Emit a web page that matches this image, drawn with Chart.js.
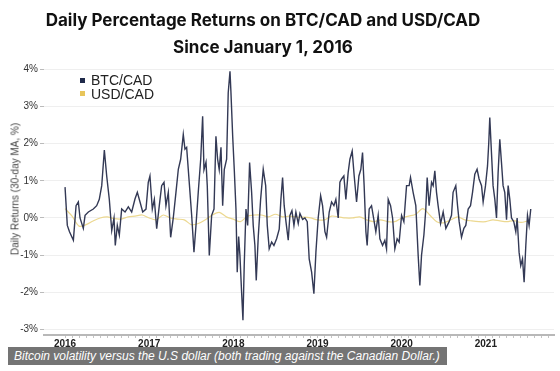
<!DOCTYPE html>
<html>
<head>
<meta charset="utf-8">
<script src="https://cdn.jsdelivr.net/npm/chart.js@4.4.1/dist/chart.umd.min.js"></script>
<style>
  html, body { margin: 0; padding: 0; background: #fff; }
  #wrap { position: relative; width: 560px; height: 371px; overflow: hidden; font-family: 'Liberation Sans', Arial, sans-serif; }
  #chart { position: absolute; left: 0; top: 0; }
  #title { position: absolute; left: 0; top: 7px; width: 526px; text-align: center; font-family: Inter, Roboto, sans-serif; font-weight: 700; font-size: 17px; line-height: 27px; color: #111; }
  #ytitle { position: absolute; left: 15px; top: 189px; transform: translate(-50%, -50%) rotate(-90deg); white-space: nowrap; font-size: 10px; color: #444; }
  #legend { position: absolute; left: 80px; top: 74px; font-size: 14px; line-height: 13.5px; color: #222; }
  #legend .box { display: inline-block; width: 5px; height: 5px; margin-right: 6px; vertical-align: middle; position: relative; top: -1px; }
  #caption { position: absolute; left: 8px; top: 347px; width: 439px; height: 18px; box-sizing: border-box; padding-left: 6px; background: #747474; color: #fff; font-style: italic; font-size: 12px; line-height: 18px; white-space: nowrap; }
</style>
</head>
<body>
<div id="wrap">
  <canvas id="chart" width="560" height="371"></canvas>
  <div id="title">Daily Percentage Returns on BTC/CAD and USD/CAD<br>Since January 1, 2016</div>
  <div id="ytitle">Daily Returns (30-day MA, %)</div>
  <div id="legend"></div>
  <div id="caption">Bitcoin volatility versus the U.S dollar (both trading against the Canadian Dollar.)</div>
</div>
<script>
// BTC/CAD, 30-day MA of daily returns (%), dates as decimal years
const btcYears = [
  2016.000, 2016.027, 2016.053, 2016.099, 2016.131, 2016.158, 2016.178, 2016.217, 2016.238, 2016.277,
  2016.336, 2016.376, 2016.407, 2016.436, 2016.467, 2016.495, 2016.526, 2016.555, 2016.582, 2016.597,
  2016.621, 2016.645, 2016.673, 2016.713, 2016.752, 2016.792, 2016.831, 2016.859, 2016.891, 2016.923,
  2016.962, 2016.989, 2017.009, 2017.037, 2017.061, 2017.089, 2017.120, 2017.148, 2017.176, 2017.199,
  2017.227, 2017.255, 2017.286, 2017.318, 2017.346, 2017.374, 2017.405, 2017.425, 2017.445, 2017.476,
  2017.505, 2017.532, 2017.556, 2017.583, 2017.612, 2017.635, 2017.651, 2017.675, 2017.690, 2017.714,
  2017.742, 2017.770, 2017.793, 2017.813, 2017.832, 2017.853, 2017.873, 2017.892, 2017.920, 2017.939,
  2017.960, 2017.971, 2017.992, 2018.011, 2018.031, 2018.046, 2018.063, 2018.078, 2018.098, 2018.114,
  2018.129, 2018.150, 2018.170, 2018.193, 2018.217, 2018.236, 2018.256, 2018.272, 2018.296, 2018.324,
  2018.355, 2018.384, 2018.403, 2018.426, 2018.455, 2018.482, 2018.514, 2018.545, 2018.565, 2018.585,
  2018.604, 2018.625, 2018.652, 2018.672, 2018.696, 2018.720, 2018.743, 2018.771, 2018.791, 2018.823,
  2018.850, 2018.878, 2018.901, 2018.930, 2018.957, 2018.981, 2019.008, 2019.037, 2019.060, 2019.088,
  2019.108, 2019.139, 2019.167, 2019.195, 2019.218, 2019.246, 2019.266, 2019.286, 2019.313, 2019.337,
  2019.364, 2019.385, 2019.412, 2019.436, 2019.464, 2019.492, 2019.515, 2019.535, 2019.554, 2019.575,
  2019.590, 2019.614, 2019.642, 2019.661, 2019.693, 2019.721, 2019.741, 2019.773, 2019.800, 2019.820,
  2019.840, 2019.868, 2019.892, 2019.919, 2019.946, 2019.970, 2019.999, 2020.026, 2020.058, 2020.089,
  2020.105, 2020.136, 2020.168, 2020.196, 2020.216, 2020.236, 2020.264, 2020.287, 2020.303, 2020.326,
  2020.355, 2020.374, 2020.394, 2020.414, 2020.433, 2020.462, 2020.493, 2020.525, 2020.564, 2020.592,
  2020.611, 2020.643, 2020.664, 2020.683, 2020.711, 2020.739, 2020.762, 2020.790, 2020.818, 2020.842,
  2020.869, 2020.896, 2020.920, 2020.949, 2020.968, 2020.996, 2021.020, 2021.035, 2021.047, 2021.063,
  2021.086, 2021.107, 2021.127, 2021.146, 2021.166, 2021.186, 2021.205, 2021.225, 2021.246, 2021.265,
  2021.285, 2021.305, 2021.332, 2021.356, 2021.372, 2021.395, 2021.415, 2021.436, 2021.455, 2021.475,
  2021.495, 2021.514, 2021.534
];
const btcReturns = [
  0.83, -0.20, -0.37, -0.60, 0.33, 0.43, 0.00, -0.28, 0.07, 0.16,
  0.24, 0.33, 0.50, 0.87, 1.83, 1.13, 0.50, -0.34, 0.00, -0.74,
  -0.20, -0.46, 0.24, 0.16, 0.30, 0.16, 0.51, 0.69, 0.43, 0.16,
  0.24, 0.96, 1.13, 0.24, 0.50, -0.29, 0.33, 0.87, 0.96, 0.33,
  0.69, -0.52, 0.00, 0.69, 1.31, 1.58, 2.25, 1.85, 1.90, 0.95,
  0.06, -0.92, -0.20, 0.69, 1.58, 2.74, 1.30, 1.50, 0.87, -1.01,
  0.07, 0.24, 2.20, 1.58, 1.30, 1.90, 0.33, 1.30, 1.58, 3.37,
  3.95, 3.40, 2.20, 1.30, 0.24, -1.46, -0.50, -1.00, -2.00, -2.75,
  -1.28, 0.24, -0.20, 1.49, 0.69, -0.20, -0.74, -1.68, -0.50, 0.50,
  1.31, 0.87, -0.20, -0.83, -0.65, -0.74, -0.56, -0.30, 0.50, 1.09,
  0.33, -0.10, -0.60, 0.07, 0.20, -0.20, 0.16, -0.15, 0.12, -0.04,
  0.00, -0.10, -1.10, -1.46, -2.04, -0.92, 0.00, 0.60, 0.33, -0.37,
  -0.52, 0.16, 0.43, 0.33, 0.50, 0.00, 0.96, 1.05, 1.13, 0.50,
  1.22, 1.58, 1.80, 1.13, 0.43, 1.13, 1.31, 1.76, 0.87, -0.37,
  -0.74, 0.24, 0.33, 0.07, -0.37, 0.07, -0.56, -0.74, -0.60, -0.83,
  0.50, 0.33, 0.00, -0.83, -0.56, -0.65, 0.07, -0.10, 0.87, 0.87,
  1.09, 0.69, 0.33, -1.01, -1.82, -1.00, -0.46, 0.24, 1.09, 0.33,
  0.96, 0.87, 1.27, 0.69, 0.33, -0.15, 0.16, -0.28, -0.10, 0.07,
  0.69, 0.87, 0.33, -0.10, -0.52, -0.28, -0.20, 0.24, 0.33, 0.69,
  1.18, 1.31, 1.05, 0.87, 0.43, 0.87, 1.40, 2.03, 2.70, 1.94,
  0.87, 0.50, 0.00, 1.22, 2.12, 1.49, 0.87, 0.69, -0.05, 0.87,
  0.50, 0.00, -0.10, -0.37, 0.00, -0.92, -1.28, -1.10, -1.73, -0.74,
  0.07, -0.20, 0.24
];

// USD/CAD, monthly readings of the 30-day MA (%)
const usdMonths = [
  '2016-01', '2016-02', '2016-03', '2016-04', '2016-05', '2016-06', '2016-07', '2016-08', '2016-09', '2016-10', '2016-11', '2016-12',
  '2017-01', '2017-02', '2017-03', '2017-04', '2017-05', '2017-06', '2017-07', '2017-08', '2017-09', '2017-10', '2017-11', '2017-12',
  '2018-01', '2018-02', '2018-03', '2018-04', '2018-05', '2018-06', '2018-07', '2018-08', '2018-09', '2018-10', '2018-11', '2018-12',
  '2019-01', '2019-02', '2019-03', '2019-04', '2019-05', '2019-06', '2019-07', '2019-08', '2019-09', '2019-10', '2019-11', '2019-12',
  '2020-01', '2020-02', '2020-03', '2020-04', '2020-05', '2020-06', '2020-07', '2020-08', '2020-09', '2020-10', '2020-11', '2020-12',
  '2021-01', '2021-02', '2021-03', '2021-04', '2021-05', '2021-06', '2021-07'
];
const usdReturns = [
  0.25, 0.05, -0.22, -0.18, -0.08, 0.00, 0.03, -0.02, -0.03, 0.03, 0.05, 0.08,
  0.00, -0.05, 0.08, 0.00, -0.03, -0.05, -0.18, -0.15, -0.05, 0.08, 0.15, 0.03,
  -0.03, -0.10, 0.05, 0.08, 0.08, 0.03, 0.10, 0.03, 0.05, 0.02, 0.02, 0.00,
  -0.05, -0.05, 0.05, 0.03, 0.00, 0.00, 0.03, -0.05, -0.10, -0.05, -0.10, -0.10,
  0.00, 0.05, 0.10, 0.25, 0.08, -0.10, -0.13, -0.05, 0.03, -0.05, -0.08, -0.10,
  -0.10, -0.05, -0.08, -0.10, -0.07, -0.12, -0.08
];

const yTicks = [-3, -2, -1, 0, 1, 2, 3, 4];
const xYears = [2016, 2017, 2018, 2019, 2020, 2021];

function monthToYear(s) {
  const [y, m] = s.split('-').map(Number);
  return y + (m - 1) / 12;
}

const btcPoints = btcYears.map((x, i) => ({ x: x, y: btcReturns[i] }));
const usdPoints = usdMonths.map((m, i) => ({ x: monthToYear(m), y: usdReturns[i] }));

const ctx = document.getElementById('chart').getContext('2d');
Chart.defaults.font.family = "'Liberation Sans', Arial, sans-serif";

const chart = new Chart(ctx, {
  type: 'line',
  data: {
    datasets: [{
      label: 'BTC/CAD',
      data: btcPoints,
      borderColor: '#333955',
      backgroundColor: '#1f2a4a',
      borderWidth: 1.4,
      pointRadius: 0,
      tension: 0
    }, {
      label: 'USD/CAD',
      data: usdPoints,
      borderColor: '#ecd890',
      backgroundColor: '#e8c55a',
      borderWidth: 1.2,
      pointRadius: 0,
      tension: 0.3
    }]
  },
  options: {
    responsive: false,
    animation: false,
    layout: { padding: { top: 66, right: 6, bottom: 0, left: 0 } },
    plugins: {
      legend: { display: false },
      tooltip: { enabled: false }
    },
    scales: {
      x: {
        type: 'linear',
        min: 2015.75,
        max: 2021.81,
        afterBuildTicks: function(scale) {
          const ticks = [];
          xYears.forEach(y => {
            for (let m = 0; m < 12; m++) ticks.push({ value: y + m / 12 });
          });
          scale.ticks = ticks.filter(t => t.value <= scale.max);
        },
        afterFit: function(scale) { scale.height = 36; },
        ticks: {
          autoSkip: false,
          maxRotation: 0,
          padding: 0,
          color: '#222',
          font: { size: 10, weight: 'bold' },
          callback: function(value) {
            const r = Math.round(value);
            return Math.abs(value - r) < 1e-6 ? String(r) : '';
          }
        },
        grid: { drawOnChartArea: false, drawTicks: true, tickLength: 3, color: '#c4c4c4' },
        border: { display: true, color: '#b8b8b8', width: 2 }
      },
      y: {
        min: -3.15,
        max: 4.09,
        afterBuildTicks: function(scale) {
          scale.ticks = yTicks.map(v => ({ value: v }));
        },
        afterFit: function(scale) { scale.width = 44; },
        ticks: {
          padding: 2,
          color: '#333',
          font: { size: 10 },
          callback: function(value) { return value + '%'; }
        },
        grid: { color: '#efefef', tickLength: 4, tickColor: '#bbb' },
        border: { display: false }
      }
    }
  }
});

// legend built from the datasets
const legendEl = document.getElementById('legend');
chart.data.datasets.forEach(ds => {
  const row = document.createElement('div');
  row.innerHTML = '<span class="box" style="background:' + ds.backgroundColor + '"></span>' + ds.label;
  legendEl.appendChild(row);
});
</script>
</body>
</html>
